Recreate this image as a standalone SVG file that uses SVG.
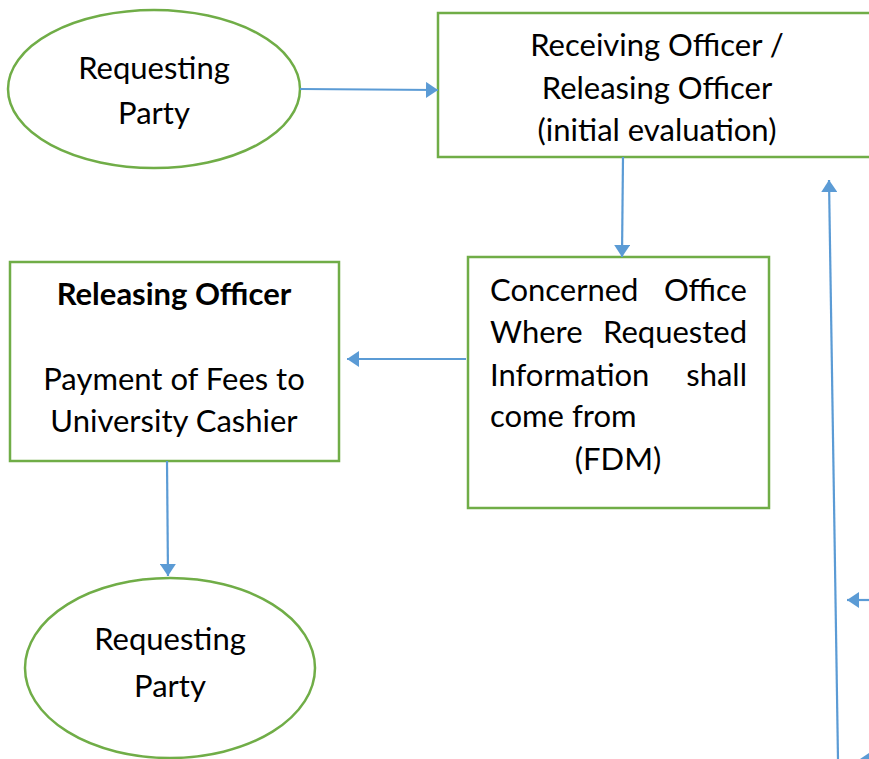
<svg xmlns="http://www.w3.org/2000/svg" width="869" height="759" viewBox="0 0 869 759">
<defs>
<style>
.node{fill:#fff;stroke:#70AD47;stroke-width:2.5}
.t{font-family:Lato,"Open Sans","Liberation Sans",sans-serif;font-size:31px;fill:#000}
.c{text-anchor:middle}
.e{text-anchor:end}
.b{font-weight:bold}
.edge{fill:none;stroke:#5B9BD5;stroke-width:2.2}
.head{fill:#5B9BD5}
</style>
<marker id="ah" viewBox="0 0 12 16" refX="12" refY="8" markerWidth="12" markerHeight="16" markerUnits="userSpaceOnUse" orient="auto">
<path d="M0,0 L12,8 L0,16 Z" class="head"/>
</marker>
</defs>
<rect width="869" height="759" fill="#fff"/>
<g id="n1">
<ellipse class="node" cx="154" cy="89" rx="146" ry="79"/>
<text class="t c" x="154" y="79">Requesting</text>
<text class="t c" x="154" y="124">Party</text>
</g>
<g id="n2">
<rect class="node" x="438" y="13" width="440" height="144"/>
<text class="t c" x="657" y="56">Receiving Officer /</text>
<text class="t c" x="657" y="99">Releasing Officer</text>
<text class="t c" x="657" y="141">(initial evaluation)</text>
</g>
<g id="n3">
<rect class="node" x="468" y="257" width="301" height="251"/>
<text class="t" x="490" y="301">Concerned</text>
<text class="t e" x="747" y="301">Office</text>
<text class="t" x="490" y="343">Where</text>
<text class="t e" x="747" y="343">Requested</text>
<text class="t" x="490" y="386">Information</text>
<text class="t e" x="747" y="386">shall</text>
<text class="t" x="490" y="427">come from</text>
<text class="t c" x="618" y="470">(FDM)</text>
</g>
<g id="n4">
<rect class="node" x="10" y="262" width="329" height="199"/>
<text class="t c b" x="174" y="305">Releasing Officer</text>
<text class="t c" x="174" y="390">Payment of Fees to</text>
<text class="t c" x="174" y="432">University Cashier</text>
</g>
<g id="n5">
<ellipse class="node" cx="170" cy="668" rx="145" ry="90"/>
<text class="t c" x="170" y="650">Requesting</text>
<text class="t c" x="170" y="697">Party</text>
</g>
<g id="connectors">
<line class="edge" x1="300" y1="89" x2="438" y2="90" marker-end="url(#ah)"/>
<line class="edge" x1="623" y1="157" x2="622" y2="257" marker-end="url(#ah)"/>
<line class="edge" x1="466" y1="359" x2="347" y2="359" marker-end="url(#ah)"/>
<line class="edge" x1="167" y1="461" x2="168" y2="576" marker-end="url(#ah)"/>
<line class="edge" x1="838" y1="759" x2="829" y2="180" marker-end="url(#ah)"/>
<line class="edge" x1="869" y1="600" x2="847" y2="600" marker-end="url(#ah)"/>
<polygon class="head" points="860,759 869,753 869,759"/>
</g>
</svg>
